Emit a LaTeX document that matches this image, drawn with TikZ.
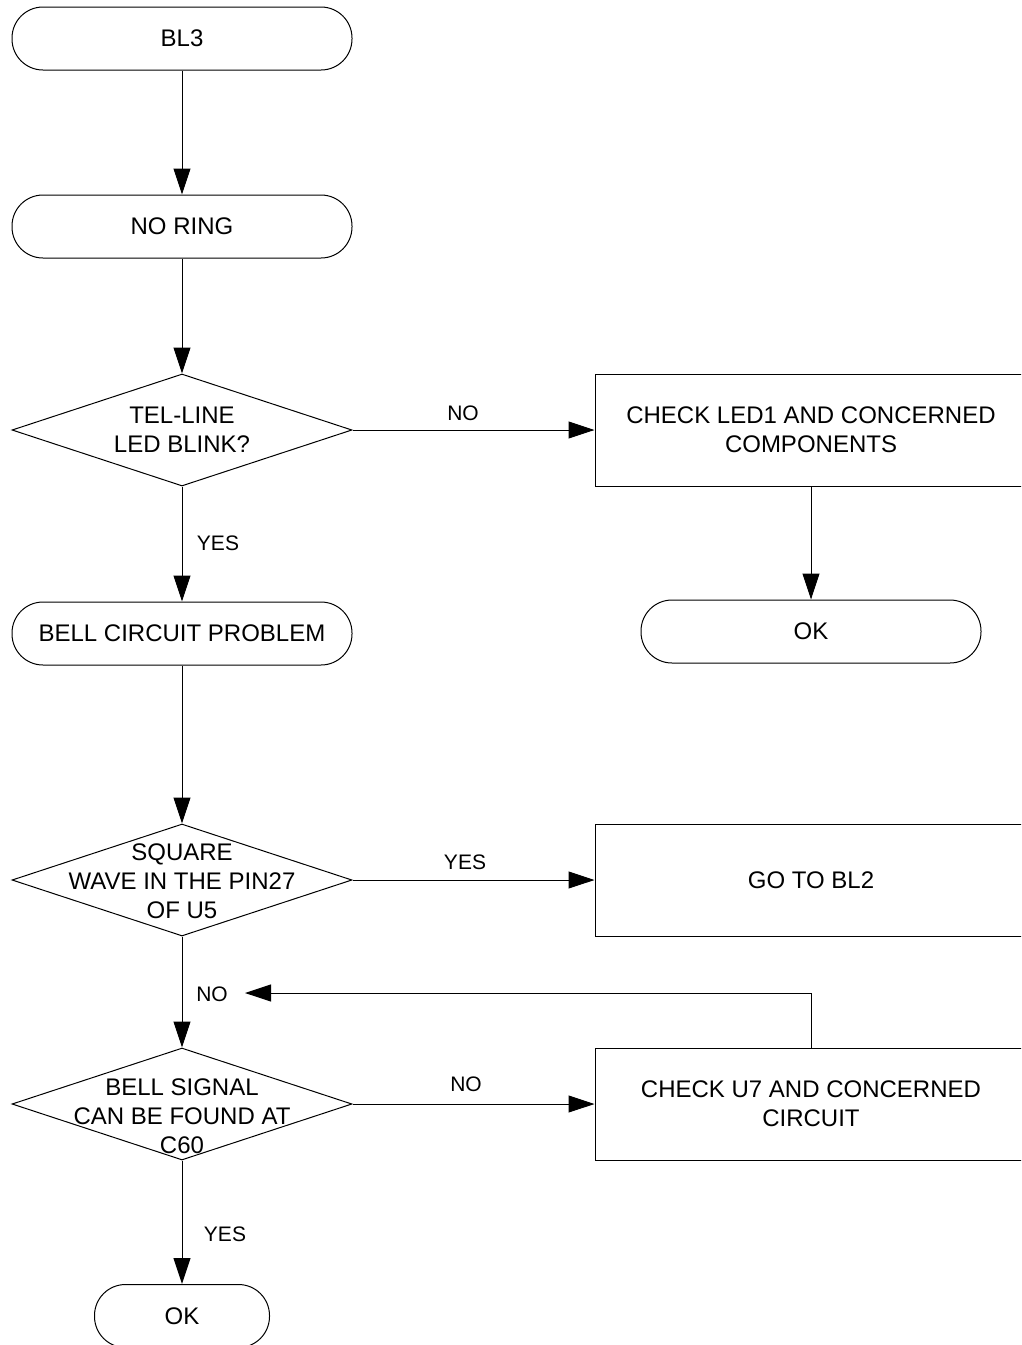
\documentclass[tikz,border=0pt]{standalone}
\usepackage{fontspec}
\setmainfont{Liberation Sans}
\usetikzlibrary{shapes.geometric,arrows.meta}
\begin{document}
\begin{tikzpicture}[x=1pt,y=-1pt,
  line width=1pt,
  mainfont/.style={font=\fontsize{24}{29}\selectfont},
  term/.style={draw, rounded corners=31pt, minimum width=340pt, minimum height=63pt, inner sep=0pt, align=center, mainfont},
  dia/.style={draw, diamond, minimum width=340pt, minimum height=112pt, inner sep=0pt},
  txt/.style={align=center, inner sep=0pt, mainfont},
  proc/.style={draw, minimum width=432pt, minimum height=112pt, inner sep=0pt, align=center, mainfont},
  lab/.style={inner sep=0pt, font=\fontsize{21}{25}\selectfont},
  arr/.style={-{Triangle[length=26pt,width=17pt]}}
]
\useasboundingbox (0,0) rectangle (1021,1345);
\clip (0,0) rectangle (1021,1345);

% left column
\node[term] (t1) at (182,38.5) {BL3};
\node[term] (t2) at (182,226.5) {NO RING};
\node[dia] (d1) at (182,430) {};
\node[txt] (d1t) at (182,430) {TEL-LINE\\LED BLINK?};
\node[term] (t3) at (182,633.5) {BELL CIRCUIT PROBLEM};
\node[dia] (d2) at (182,880) {};
\node[txt] (d2t) at (182,881) {SQUARE\\WAVE IN THE PIN27\\OF U5};
\node[dia] (d3) at (182,1104) {};
\node[txt] (d3t) at (182,1116) {BELL SIGNAL\\CAN BE FOUND AT\\C60};
\node[draw, rounded corners=31pt, minimum width=175pt, minimum height=63pt, inner sep=0pt, mainfont] (ok2) at (182,1316) {OK};

% right column
\node[proc] (b1) at (811,430) {CHECK LED1 AND CONCERNED\\COMPONENTS};
\node[term] (ok1) at (811,631.5) {OK};
\node[proc] (b2) at (811,880) {GO TO BL2};
\node[proc] (b3) at (811,1104) {CHECK U7 AND CONCERNED\\CIRCUIT};

% connectors
\draw[arr] (t1.south) -- (t2.north);
\draw[arr] (t2.south) -- (d1.north);
\draw[arr] (d1.east) -- (b1.west);
\draw[arr] (b1.south) -- (ok1.north);
\draw[arr] (d1.south) -- (t3.north);
\draw[arr] (t3.south) -- (d2.north);
\draw[arr] (d2.east) -- (b2.west);
\draw[arr] (d2.south) -- (d3.north);
\draw[arr] (d3.east) -- (b3.west);
\coordinate (lp) at (245,993);
\draw[arr] (b3.north) |- (lp);
\draw[arr] (d3.south) -- (ok2.north);

% labels
\node[lab] (l1) at (463,413) {NO};
\node[lab] (l2) at (218,543) {YES};
\node[lab] (l3) at (465,862) {YES};
\node[lab] (l4) at (212,994) {NO};
\node[lab] (l5) at (466,1084) {NO};
\node[lab] (l6) at (225,1234) {YES};
\end{tikzpicture}
\end{document}
